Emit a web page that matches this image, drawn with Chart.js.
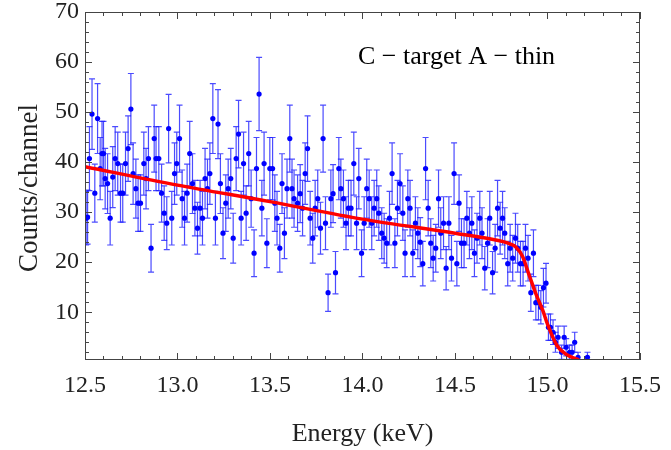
<script src="https://cdn.jsdelivr.net/npm/chart.js@4/dist/chart.umd.min.js"></script>
<style>
  body { margin: 0; background: #fff; }
  canvas { display: block; }
</style>
<canvas id="chart" width="671" height="450"></canvas>
<script>
// measured spectrum (energy in keV, counts per channel)
const energy = [
  12.506, 12.514, 12.524, 12.538, 12.553, 12.568, 12.582, 12.592, 12.600, 12.609,
  12.622, 12.636, 12.650, 12.663, 12.677, 12.692, 12.704, 12.719, 12.733, 12.748,
  12.760, 12.775, 12.787, 12.800, 12.818, 12.830, 12.843, 12.857, 12.874, 12.884,
  12.899, 12.914, 12.928, 12.942, 12.952, 12.969, 12.984, 12.996, 13.011, 13.025,
  13.038, 13.052, 13.066, 13.081, 13.094, 13.108, 13.122, 13.135, 13.149, 13.162,
  13.175, 13.191, 13.205, 13.219, 13.232, 13.246, 13.261, 13.274, 13.288, 13.301,
  13.317, 13.330, 13.344, 13.357, 13.371, 13.385, 13.398, 13.414, 13.427, 13.441,
  13.456, 13.468, 13.483, 13.499, 13.514, 13.526, 13.538, 13.553, 13.565, 13.578,
  13.592, 13.607, 13.619, 13.630, 13.649, 13.663, 13.676, 13.690, 13.703, 13.717,
  13.731, 13.744, 13.758, 13.773, 13.787, 13.800, 13.814, 13.829, 13.841, 13.854,
  13.872, 13.883, 13.897, 13.911, 13.924, 13.938, 13.953, 13.968, 13.980, 13.995,
  14.009, 14.023, 14.036, 14.050, 14.063, 14.077, 14.088, 14.104, 14.117, 14.131,
  14.146, 14.160, 14.175, 14.189, 14.203, 14.218, 14.230, 14.245, 14.257, 14.272,
  14.286, 14.299, 14.312, 14.326, 14.341, 14.355, 14.369, 14.382, 14.396, 14.411,
  14.423, 14.438, 14.452, 14.467, 14.481, 14.495, 14.510, 14.522, 14.535, 14.549,
  14.564, 14.578, 14.591, 14.605, 14.619, 14.634, 14.646, 14.661, 14.676, 14.688,
  14.703, 14.717, 14.730, 14.744, 14.757, 14.769, 14.785, 14.798, 14.812, 14.827,
  14.839, 14.854, 14.868, 14.881, 14.895, 14.910, 14.924, 14.937, 14.951, 14.964,
  14.978, 14.992, 15.005, 15.016, 15.030, 15.043, 15.057, 15.076, 15.090, 15.101,
  15.119, 15.133, 15.147, 15.165, 15.216
];
const counts = [
  28.8, 29.0, 40.7, 49.6, 33.8, 48.7, 38.7, 41.7, 41.7, 36.7,
  35.7, 28.8, 37.0, 40.7, 39.7, 33.8, 33.8, 39.7, 42.7, 50.6,
  37.7, 34.7, 31.8, 31.8, 39.7, 36.7, 40.7, 22.8, 44.7, 40.7,
  40.7, 33.8, 29.8, 27.8, 46.7, 28.8, 37.7, 39.7, 44.7, 32.7,
  28.8, 33.8, 41.7, 35.7, 30.8, 26.8, 30.8, 28.8, 36.7, 34.7,
  37.7, 48.7, 28.8, 47.6, 35.7, 25.8, 31.8, 34.7, 36.7, 24.8,
  40.7, 45.6, 28.8, 39.7, 29.8, 41.7, 32.7, 21.8, 38.7, 53.6,
  30.8, 39.7, 23.8, 38.7, 38.7, 31.8, 28.8, 22.8, 35.7, 25.8,
  34.7, 44.7, 34.7, 32.7, 31.8, 33.7, 30.8, 37.7, 42.7, 28.8,
  24.8, 30.8, 32.7, 26.8, 44.7, 27.8, 13.9, 32.7, 33.7, 17.9,
  38.7, 34.7, 32.7, 27.8, 30.8, 30.8, 39.7, 27.8, 36.7, 21.8,
  27.8, 34.7, 32.7, 27.8, 30.8, 32.7, 29.8, 25.8, 24.8, 23.8,
  28.8, 37.7, 23.8, 30.8, 35.7, 29.8, 21.8, 32.7, 30.8, 21.8,
  27.8, 25.8, 24.0, 19.7, 38.7, 30.8, 23.8, 20.8, 22.8, 32.7,
  25.8, 27.8, 18.8, 27.8, 20.8, 37.7, 19.7, 31.8, 23.8, 23.8,
  28.8, 25.8, 27.8, 21.8, 24.8, 28.8, 25.8, 18.8, 23.8, 28.8,
  17.9, 22.8, 30.8, 26.8, 28.8, 25.8, 19.7, 22.8, 20.8, 24.8,
  22.8, 19.7, 19.7, 22.8, 20.8, 13.9, 21.8, 11.9, 11.9, 11.0,
  14.9, 15.8, 7.0, 7.0, 6.0, 4.0, 5.0, 2.0, 5.0, 3.0,
  2.0, 2.0, 4.0, 1.0, 1.0
];

// fitted curve
const fitEnergy = [12.5, 13.0, 13.5, 14.0, 14.5, 14.7, 14.76, 14.8, 14.83, 14.866, 14.9, 14.94, 14.975, 15.0, 15.05, 15.1, 15.14, 15.17];
const fitCounts = [39.1, 35.4, 32.1, 28.6, 25.8, 24.6, 24.1, 23.6, 23.0, 21.1, 17.5, 13.4, 10.3, 7.6, 3.4, 1.6, 0.9, 0.5];

const xTicks = [12.5, 13.0, 13.5, 14.0, 14.5, 15.0, 15.5];
const yTicks = [10, 20, 30, 40, 50, 60, 70];

const serif = '"Liberation Serif", "DejaVu Serif", serif';

const errorBars = {
  id: 'errorBars',
  beforeDatasetsDraw(chart) {
    const { ctx, chartArea: a, scales: { x, y } } = chart;
    ctx.save();
    ctx.beginPath();
    ctx.rect(a.left, a.top, a.right - a.left, a.bottom - a.top);
    ctx.clip();
    ctx.strokeStyle = 'rgba(30,30,255,0.8)';
    ctx.lineWidth = 1.2;
    for (let i = 0; i < energy.length; i++) {
      const err = Math.sqrt(counts[i]); // poisson error
      const px = x.getPixelForValue(energy[i]);
      const top = y.getPixelForValue(counts[i] + err);
      const bot = y.getPixelForValue(counts[i] - err);
      ctx.beginPath();
      ctx.moveTo(px, top); ctx.lineTo(px, bot);
      ctx.moveTo(px - 3, top); ctx.lineTo(px + 3, top);
      ctx.moveTo(px - 3, bot); ctx.lineTo(px + 3, bot);
      ctx.stroke();
    }
    ctx.restore();
  }
};

const frame = {
  id: 'frame',
  afterDraw(chart) {
    const { ctx, chartArea: a, scales: { x, y } } = chart;
    ctx.save();
    ctx.strokeStyle = '#444';
    ctx.lineWidth = 1;
    ctx.strokeRect(a.left + 0.5, a.top + 0.5, a.right - a.left - 1, a.bottom - a.top - 1);
    ctx.beginPath();
    for (let v = 12.5; v <= 15.5001; v += 0.1) {
      const px = Math.round(x.getPixelForValue(v)) + 0.5;
      const major = Math.abs(v * 2 - Math.round(v * 2)) < 0.01;
      const len = major ? 7 : 4;
      ctx.moveTo(px, a.bottom); ctx.lineTo(px, a.bottom - len);
      ctx.moveTo(px, a.top); ctx.lineTo(px, a.top + len);
    }
    for (let v = 2; v <= 70; v += 2) {
      const py = Math.round(y.getPixelForValue(v)) + 0.5;
      const len = v % 10 === 0 ? 7 : 4;
      ctx.moveTo(a.left, py); ctx.lineTo(a.left + len, py);
      ctx.moveTo(a.right, py); ctx.lineTo(a.right - len, py);
    }
    ctx.stroke();

    ctx.fillStyle = '#222';
    ctx.font = '26px ' + serif;
    ctx.textAlign = 'center';
    ctx.textBaseline = 'middle';
    ctx.fillText('Energy (keV)', (a.left + a.right) / 2, 434);
    ctx.save();
    ctx.translate(30, 188);
    ctx.rotate(-Math.PI / 2);
    ctx.font = '27px ' + serif;
    ctx.fillText('Counts/channel', 0, 0);
    ctx.restore();
    ctx.textAlign = 'left';
    ctx.fillStyle = '#000';
    ctx.font = '26px ' + serif;
    ctx.fillText('C \u2212 target A \u2212 thin', 358, 57);
    ctx.restore();
  }
};

new Chart(document.getElementById('chart'), {
  type: 'scatter',
  data: {
    datasets: [
      {
        label: 'fit',
        type: 'line',
        data: fitEnergy.map((e, i) => ({ x: e, y: fitCounts[i] })),
        borderColor: '#ff0000',
        borderWidth: 3.5,
        pointRadius: 0,
        cubicInterpolationMode: 'monotone',
        fill: false,
        order: 0
      },
      {
        label: 'data',
        data: energy.map((e, i) => ({ x: e, y: counts[i] })),
        backgroundColor: '#0000ff',
        borderColor: '#0000ff',
        pointRadius: 2.6,
        pointBorderWidth: 0,
        order: 1
      }
    ]
  },
  options: {
    responsive: false,
    animation: false,
    clip: 0,
    layout: { padding: { left: 0, right: 31, top: 12, bottom: 0 } },
    plugins: { legend: { display: false }, tooltip: { enabled: false } },
    scales: {
      x: {
        type: 'linear',
        min: 12.5,
        max: 15.5,
        afterFit: (s) => { s.height = 90; },
        afterBuildTicks: (s) => { s.ticks = xTicks.map((v) => ({ value: v })); },
        grid: { display: false, drawTicks: false },
        border: { display: false },
        ticks: {
          padding: 2,
          color: '#222',
          font: { family: serif, size: 24, lineHeight: 2 },
          callback: (v) => v.toFixed(1),
          maxRotation: 0
        }
      },
      y: {
        min: 0.45,
        max: 70,
        afterFit: (s) => { s.width = 85; },
        afterBuildTicks: (s) => { s.ticks = yTicks.map((v) => ({ value: v })); },
        grid: { display: false, drawTicks: false },
        border: { display: false },
        ticks: {
          padding: 6,
          color: '#222',
          font: { family: serif, size: 24, lineHeight: 0.5 }
        }
      }
    }
  },
  plugins: [errorBars, frame]
});
</script>
